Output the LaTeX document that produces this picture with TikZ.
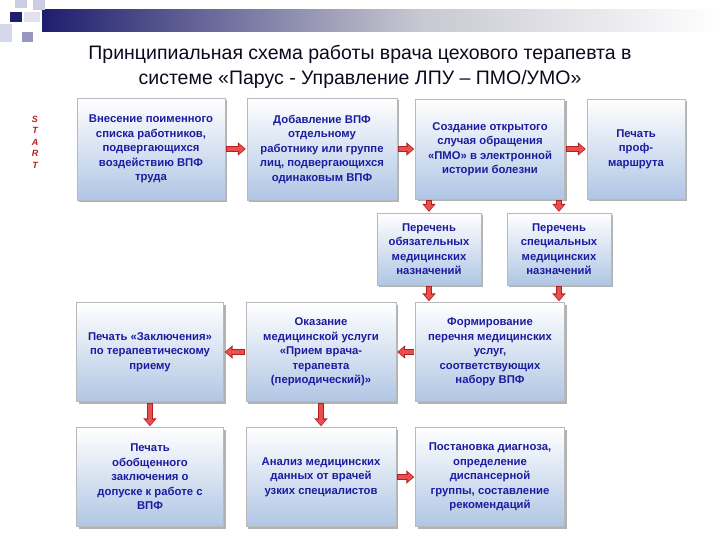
\documentclass[tikz,border=0pt]{standalone}
\usepackage{fontspec}
\setmainfont{Liberation Sans}
\usetikzlibrary{shadows,arrows.meta}
\definecolor{txt}{HTML}{1C1CA0}
\definecolor{arr}{HTML}{E8504F}
\definecolor{arrd}{HTML}{B02020}
\definecolor{navy}{RGB}{30,30,110}
\definecolor{lgr}{RGB}{200,200,210}
\definecolor{mgr}{RGB}{170,170,195}
\definecolor{boxb}{RGB}{176,198,228}
\definecolor{sqa}{RGB}{205,205,225}
\definecolor{sqb}{RGB}{215,215,235}
\definecolor{sqc}{RGB}{150,150,190}
\definecolor{sqd}{RGB}{225,225,240}
\definecolor{ttl}{RGB}{10,10,30}
\begin{document}
\begin{tikzpicture}[x=1pt,y=-1pt,
  box/.style={draw=gray!55, top color=white, bottom color=boxb,
    drop shadow={shadow xshift=2pt,shadow yshift=-2pt,fill=gray!60,opacity=1},
    font=\bfseries\fontsize{11.3}{14.5}\selectfont, text=txt, align=center, inner sep=1pt},
  ba/.style={line width=6pt, draw=arrd, -{Triangle[width=13pt,length=8pt]}, shorten >=1pt, shorten <=1pt},
  bb/.style={line width=4pt, draw=arr, -{Triangle[width=9pt,length=5.5pt]}, shorten >=2.2pt, shorten <=1.8pt}]
\useasboundingbox (0,0) rectangle (720,540);
% header
\shade[left color=lgr, right color=white] (420,10) rectangle (720,32);
\shade[left color=navy, right color=lgr] (42,10) rectangle (420,32);
\fill[sqa] (15,0) rectangle (27,8);
\fill[sqa] (33,0) rectangle (45,10);
\fill[navy] (10,12) rectangle (22,22);
\fill[sqb] (0,24) rectangle (12,42);
\fill[sqc] (22,32) rectangle (33,42);
\fill[sqd] (24,12) rectangle (40,22);
\node[font=\fontsize{19.5}{25}\selectfont, align=center, text=ttl] (title) at (360,67)
  {Принципиальная схема работы врача цехового терапевта в\\системе «Парус - Управление ЛПУ – ПМО/УМО»};
\node[font=\bfseries\itshape\fontsize{9}{11.5}\selectfont, text=arrd, align=center] (start) at (35,142) {S\\T\\A\\R\\T};
% boxes
\node[box, minimum width=148, minimum height=102] (b1) at (151,149) {Внесение поименного\\списка работников,\\подвергающихся\\воздействию ВПФ\\труда};
\node[box, minimum width=150, minimum height=102] (b2) at (322,149) {Добавление ВПФ\\отдельному\\работнику или группе\\лиц, подвергающихся\\одинаковым ВПФ};
\node[box, minimum width=149, minimum height=100] (b3) at (490,149) {Создание открытого\\случая обращения\\«ПМО» в электронной\\истории болезни};
\node[box, minimum width=98, minimum height=100] (b4) at (636,149) {Печать\\проф-\\маршрута};
\node[box, minimum width=104, minimum height=72] (p1) at (429,249) {Перечень\\обязательных\\медицинских\\назначений};
\node[box, minimum width=104, minimum height=72] (p2) at (559,249) {Перечень\\специальных\\медицинских\\назначений};
\node[box, minimum width=147, minimum height=99] (l3) at (150,352) {Печать «Заключения»\\по терапевтическому\\приему};
\node[box, minimum width=150, minimum height=99] (m3) at (321,352) {Оказание\\медицинской услуги\\«Прием врача-\\терапевта\\(периодический)»};
\node[box, minimum width=149, minimum height=99] (r3) at (490,352) {Формирование\\перечня медицинских\\услуг,\\соответствующих\\набору ВПФ};
\node[box, minimum width=147, minimum height=99] (l4) at (150,477) {Печать\\обобщенного\\заключения о\\допуске к работе с\\ВПФ};
\node[box, minimum width=150, minimum height=99] (m4) at (321,477) {Анализ медицинских\\данных от врачей\\узких специалистов};
\node[box, minimum width=149, minimum height=99] (r4) at (490,477) {Постановка диагноза,\\определение\\диспансерной\\группы, составление\\рекомендаций};
% arrows
\foreach \a/\b in {b1/b2,b2/b3,b3/b4,r3/m3,m3/l3,m4/r4,l3/l4,m3/m4}{
  \draw[ba] (\a) -- (\b); \draw[bb] (\a) -- (\b);}
\foreach \b in {p1,p2}{
  \draw[ba] (b3.south -| \b) -- (\b.north); \draw[bb] (b3.south -| \b) -- (\b.north);
  \draw[ba] (\b.south) -- (r3.north -| \b); \draw[bb] (\b.south) -- (r3.north -| \b);}
\end{tikzpicture}
\end{document}
